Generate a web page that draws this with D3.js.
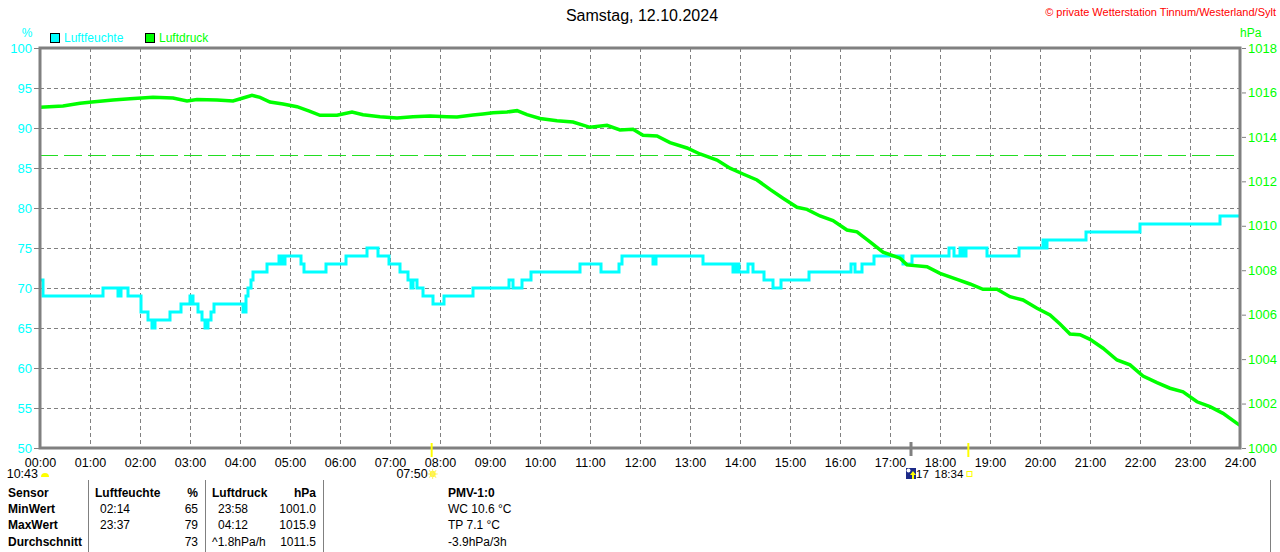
<!DOCTYPE html>
<html>
<head>
<meta charset="utf-8">
<script src="https://cdn.jsdelivr.net/npm/d3@7"></script>
<style>
  body { margin: 0; background: #fff; }
  svg { display: block; font-family: "Liberation Sans", Arial, sans-serif; }
</style>
</head>
<body>
<div id="chart"></div>
<script>
// Luftfeuchte: Stufenwerte (Stunde, %)
var humHour = [0.00, 0.06, 1.26, 1.56, 1.62, 1.76, 2.02, 2.16, 2.24, 2.30, 2.60, 2.82, 3.00, 3.06, 3.16, 3.24, 3.30, 3.36, 3.42, 3.48,
  4.06, 4.12, 4.16, 4.22, 4.26, 4.54, 4.78, 4.84, 4.90, 5.22, 5.28, 5.72, 6.12, 6.54, 6.76, 6.98, 7.20, 7.36, 7.42, 7.46,
  7.54, 7.66, 7.86, 8.08, 8.66, 9.38, 9.46, 9.64, 9.82, 10.80, 11.22, 11.58, 11.64, 12.26, 12.32, 13.26, 13.86, 13.92, 13.98, 14.16,
  14.26, 14.48, 14.66, 14.82, 15.38, 16.22, 16.30, 16.44, 16.68, 17.26, 17.44, 18.18, 18.28, 18.40, 18.46, 18.52, 18.94, 19.58, 20.06, 20.10,
  20.14, 20.92, 22.00, 23.60, 24.00];
var humValue = [71, 69, 70, 69, 70, 69, 67, 66, 65, 66, 67, 68, 69, 68, 67, 66, 65, 66, 67, 68,
  67, 69, 70, 71, 72, 73, 74, 73, 74, 73, 72, 73, 74, 75, 74, 73, 72, 71, 70, 71,
  70, 69, 68, 69, 70, 71, 70, 71, 72, 73, 72, 73, 74, 73, 74, 73, 72, 73, 72, 73,
  72, 71, 70, 71, 72, 73, 72, 73, 74, 73, 74, 75, 74, 75, 74, 75, 74, 75, 76, 75,
  76, 77, 78, 79, 79];

// Luftdruck (Stunde, hPa)
var pressHour = [0.00, 0.46, 0.80, 1.04, 1.46, 1.80, 2.26, 2.66, 2.94, 3.14, 3.54, 3.86, 4.06, 4.24, 4.40, 4.60, 4.86, 5.14, 5.40, 5.60,
  5.94, 6.24, 6.46, 6.80, 7.14, 7.46, 7.80, 8.14, 8.34, 8.66, 8.86, 9.06, 9.34, 9.54, 9.74, 10.00, 10.34, 10.66, 11.00, 11.34,
  11.60, 11.86, 12.06, 12.34, 12.60, 12.94, 13.20, 13.54, 13.80, 14.06, 14.34, 14.60, 14.86, 15.14, 15.34, 15.60, 15.86, 16.14, 16.34, 16.60,
  16.86, 17.20, 17.34, 17.74, 18.00, 18.34, 18.60, 18.86, 19.14, 19.40, 19.66, 19.94, 20.20, 20.40, 20.60, 20.80, 21.00, 21.26, 21.54, 21.80,
  22.06, 22.34, 22.60, 22.86, 23.14, 23.40, 23.66, 23.94, 24.00];
var pressValue = [1015.33, 1015.39, 1015.51, 1015.57, 1015.66, 1015.72, 1015.78, 1015.75, 1015.62, 1015.68, 1015.66, 1015.62, 1015.75, 1015.87, 1015.78, 1015.57, 1015.48, 1015.36, 1015.15, 1014.97,
  1014.97, 1015.12, 1015.00, 1014.91, 1014.85, 1014.91, 1014.94, 1014.91, 1014.90, 1014.98, 1015.03, 1015.09, 1015.12, 1015.18, 1015.00, 1014.83, 1014.73, 1014.67, 1014.43, 1014.52,
  1014.31, 1014.34, 1014.07, 1014.04, 1013.74, 1013.50, 1013.23, 1012.96, 1012.59, 1012.33, 1012.06, 1011.64, 1011.24, 1010.83, 1010.74, 1010.44, 1010.23, 1009.81, 1009.73, 1009.28,
  1008.81, 1008.54, 1008.24, 1008.16, 1007.86, 1007.59, 1007.38, 1007.14, 1007.14, 1006.81, 1006.66, 1006.29, 1005.99, 1005.58, 1005.13, 1005.10, 1004.89, 1004.49, 1003.96, 1003.74,
  1003.24, 1002.94, 1002.69, 1002.53, 1002.08, 1001.86, 1001.56, 1001.11, 1001.02];

var normalPressure = 1013.25;

var hourTicks = [0, 1, 2, 3, 4, 5, 6, 7, 8, 9, 10, 11, 12, 13, 14, 15, 16, 17, 18, 19, 20, 21, 22, 23, 24];
var hourLabels = ['00:00', '01:00', '02:00', '03:00', '04:00', '05:00', '06:00', '07:00', '08:00', '09:00', '10:00', '11:00', '12:00',
  '13:00', '14:00', '15:00', '16:00', '17:00', '18:00', '19:00', '20:00', '21:00', '22:00', '23:00', '24:00'];
var humTicks = [50, 55, 60, 65, 70, 75, 80, 85, 90, 95, 100];
var pressTicks = [1000, 1002, 1004, 1006, 1008, 1010, 1012, 1014, 1016, 1018];

// Sonne / Mond
var moonSetHour = 10 + 43 / 60, moonSetLabel = '10:43';
var sunRiseHour = 7 + 50 / 60, sunRiseLabel = '07:50';
var sunSetHour = 18 + 34 / 60, sunSetLabel = '18:34';
var moonRiseHour = 17.42, moonRiseLabel = '17';

var tableHead = ['Sensor', 'Luftfeuchte', '%', 'Luftdruck', 'hPa', 'PMV-1:0'];
var rowNames = ['MinWert', 'MaxWert', 'Durchschnitt'];
var humTimes = ['02:14', '23:37', ''];
var humStats = ['65', '79', '73'];
var pressTimes = ['23:58', '04:12', '^1.8hPa/h'];
var pressStats = ['1001.0', '1015.9', '1011.5'];
var pmvTexts = ['WC 10.6 \u00B0C', 'TP 7.1 \u00B0C', '-3.9hPa/3h'];

var width = 1280, height = 552;
var plotL = 40, plotR = 1240, plotT = 48, plotB = 448;
var cyan = '#00ffff', green = '#00ff00', gray = '#808080';

var svg = d3.select('#chart').append('svg')
  .attr('width', width)
  .attr('height', height);
svg.append('rect').attr('width', width).attr('height', height).attr('fill', '#fff');

var x = d3.scaleLinear().domain([0, 24]).range([plotL, plotR]);
var yHum = d3.scaleLinear().domain([50, 100]).range([plotB, plotT]);
var yPress = d3.scaleLinear().domain([1000, 1018]).range([plotB, plotT]);

// Titel
svg.append('text').attr('x', 642).attr('y', 21).attr('text-anchor', 'middle')
  .attr('font-size', 16).attr('fill', '#000').text('Samstag, 12.10.2024');
svg.append('text').attr('x', 1276).attr('y', 16).attr('text-anchor', 'end')
  .attr('font-size', 11).attr('fill', '#ff0000').text('\u00A9 private Wetterstation Tinnum/Westerland/Sylt');

// Gitter
var grid = svg.append('g').attr('stroke', gray).attr('stroke-width', 1).attr('stroke-dasharray', '4,3');
grid.selectAll('.vg').data(hourTicks.slice(1, -1)).enter().append('line')
  .attr('x1', function (d) { return x(d) + 0.5; }).attr('x2', function (d) { return x(d) + 0.5; })
  .attr('y1', plotT).attr('y2', plotB);
grid.selectAll('.hg').data(humTicks.slice(1, -1)).enter().append('line')
  .attr('x1', plotL).attr('x2', plotR)
  .attr('y1', function (d) { return yHum(d) + 0.5; }).attr('y2', function (d) { return yHum(d) + 0.5; });

// Normaldruck
svg.append('line')
  .attr('x1', plotL).attr('x2', plotR)
  .attr('y1', Math.round(yPress(normalPressure)) + 1.5).attr('y2', Math.round(yPress(normalPressure)) + 1.5)
  .attr('stroke', '#22dd22').attr('stroke-width', 1).attr('stroke-dasharray', '18,6');

// Linien
var humLine = d3.line()
  .x(function (d, i) { return x(humHour[i]); })
  .y(function (d) { return yHum(d); })
  .curve(d3.curveStepAfter);
svg.append('path').datum(humValue)
  .attr('d', humLine).attr('fill', 'none').attr('stroke', cyan).attr('stroke-width', 3);

var pressLine = d3.line()
  .x(function (d, i) { return x(pressHour[i]); })
  .y(function (d) { return yPress(d); });
svg.append('path').datum(pressValue)
  .attr('d', pressLine).attr('fill', 'none').attr('stroke', green).attr('stroke-width', 3.5);

// Rahmen
svg.append('rect').attr('x', plotL).attr('y', plotT).attr('width', plotR - plotL).attr('height', plotB - plotT)
  .attr('fill', 'none').attr('stroke', gray).attr('stroke-width', 3);

// Achsen
var axHum = svg.append('g').attr('transform', 'translate(' + (plotL - 1) + ',0)')
  .call(d3.axisLeft(yHum).tickValues(humTicks).tickSize(5).tickPadding(2));
axHum.select('.domain').remove();
axHum.selectAll('line').attr('stroke', gray);
axHum.selectAll('text').attr('fill', cyan).attr('font-size', 13).attr('font-family', null);

var axPress = svg.append('g').attr('transform', 'translate(' + (plotR + 2) + ',0)')
  .call(d3.axisRight(yPress).tickValues(pressTicks).tickSize(4).tickPadding(2).tickFormat(d3.format('d')));
axPress.select('.domain').remove();
axPress.selectAll('line').attr('stroke', gray);
axPress.selectAll('text').attr('fill', green).attr('font-size', 13).attr('font-family', null);

var axTime = svg.append('g').attr('transform', 'translate(0,' + (plotB + 1) + ')')
  .call(d3.axisBottom(x).tickValues(hourTicks).tickSize(0).tickPadding(9)
    .tickFormat(function (d, i) { return hourLabels[i]; }));
axTime.select('.domain').remove();
axTime.selectAll('text').attr('fill', '#000').attr('font-size', 12.5).attr('font-family', null);

svg.append('text').attr('x', 27).attr('y', 37).attr('text-anchor', 'middle')
  .attr('font-size', 12).attr('fill', cyan).text('%');
svg.append('text').attr('x', 1240).attr('y', 37)
  .attr('font-size', 12).attr('fill', green).text('hPa');

// Legende
var legendItems = [{ label: 'Luftfeuchte', color: cyan, x: 50 }, { label: 'Luftdruck', color: green, x: 145 }];
var legend = svg.selectAll('.legend').data(legendItems).enter().append('g')
  .attr('transform', function (d) { return 'translate(' + d.x + ',33)'; });
legend.append('rect').attr('x', 0.5).attr('y', 0.5).attr('width', 9).attr('height', 9)
  .attr('fill', function (d) { return d.color; }).attr('stroke', '#000');
legend.append('text').attr('x', 14).attr('y', 9).attr('font-size', 12)
  .attr('fill', function (d) { return d.color; }).text(function (d) { return d.label; });

// Sonne und Mond
svg.append('line').attr('x1', x(sunRiseHour)).attr('x2', x(sunRiseHour)).attr('y1', 443).attr('y2', 457)
  .attr('stroke', '#ffff00').attr('stroke-width', 2);
svg.append('line').attr('x1', x(sunSetHour)).attr('x2', x(sunSetHour)).attr('y1', 443).attr('y2', 457)
  .attr('stroke', '#ffff00').attr('stroke-width', 2);
svg.append('line').attr('x1', x(moonRiseHour)).attr('x2', x(moonRiseHour)).attr('y1', 442).attr('y2', 456)
  .attr('stroke', gray).attr('stroke-width', 3);

var evY = 478;
svg.append('text').attr('x', 38).attr('y', evY).attr('text-anchor', 'end').attr('font-size', 12.5).text(moonSetLabel);
svg.append('path').attr('d', 'M41,477 A4,4 0 0 1 49,477 Z').attr('fill', '#ffff00');

svg.append('text').attr('x', x(sunRiseHour) - 4).attr('y', evY).attr('text-anchor', 'end').attr('font-size', 12.5).text(sunRiseLabel);
var sun = svg.append('g').attr('transform', 'translate(' + (x(sunRiseHour) + 1) + ',474)');
sun.append('circle').attr('r', 3).attr('fill', '#ffff00');
sun.selectAll('line').data([0, 45, 90, 135]).enter().append('line')
  .attr('x1', -5).attr('x2', 5).attr('y1', 0).attr('y2', 0)
  .attr('transform', function (d) { return 'rotate(' + d + ')'; })
  .attr('stroke', '#ffee66').attr('stroke-width', 1);

svg.append('text').attr('x', x(sunSetHour) - 5).attr('y', evY).attr('text-anchor', 'end').attr('font-size', 11.5).text(sunSetLabel);
svg.append('rect').attr('x', x(sunSetHour) - 1.5).attr('y', 471.5).attr('width', 5).attr('height', 5)
  .attr('fill', 'none').attr('stroke', '#ffff00');

var moon = svg.append('g').attr('transform', 'translate(' + (x(moonRiseHour) - 5) + ',468)');
moon.append('rect').attr('width', 10).attr('height', 11).attr('fill', '#1c2a88');
moon.append('circle').attr('cx', 2.5).attr('cy', 2.5).attr('r', 2).attr('fill', '#fff');
moon.append('path').attr('d', 'M7,3 L10,7 L8,7 L8,11 L6,11 L6,7 L4,7 Z').attr('fill', '#ffff00');
svg.append('text').attr('x', x(moonRiseHour) + 5).attr('y', evY).attr('font-size', 11.5).text(moonRiseLabel);

// Tabelle
var rowY = [497, 513, 529, 546];
var tab = svg.append('g').attr('font-size', 12);
[88, 205, 323, 1270].forEach(function (dx) {
  tab.append('line').attr('x1', dx + 0.5).attr('x2', dx + 0.5).attr('y1', 480).attr('y2', 552).attr('stroke', gray);
});
var headX = [8, 95, 198, 212, 316, 448];
var headAnchor = ['start', 'start', 'end', 'start', 'end', 'start'];
tab.selectAll('.head').data(tableHead).enter().append('text')
  .attr('x', function (d, i) { return headX[i]; }).attr('y', rowY[0])
  .attr('text-anchor', function (d, i) { return headAnchor[i]; })
  .attr('font-weight', 'bold').text(function (d) { return d; });
rowNames.forEach(function (name, i) {
  var yy = rowY[i + 1];
  tab.append('text').attr('x', 8).attr('y', yy).attr('font-weight', 'bold').text(name);
  tab.append('text').attr('x', 100).attr('y', yy).text(humTimes[i]);
  tab.append('text').attr('x', 198).attr('y', yy).attr('text-anchor', 'end').text(humStats[i]);
  tab.append('text').attr('x', i === 2 ? 212 : 218).attr('y', yy).text(pressTimes[i]);
  tab.append('text').attr('x', 316).attr('y', yy).attr('text-anchor', 'end').text(pressStats[i]);
  tab.append('text').attr('x', 448).attr('y', yy).text(pmvTexts[i]);
});
</script>
</body>
</html>
